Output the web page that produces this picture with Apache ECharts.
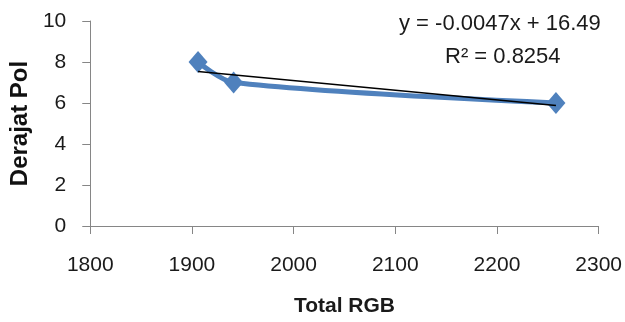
<!DOCTYPE html>
<html><head><meta charset="utf-8">
<script src="https://cdn.jsdelivr.net/npm/echarts@6/dist/echarts.min.js"></script>
<style>html,body{margin:0;padding:0;background:#fff}#c{width:625px;height:322px}</style>
</head><body><div id="c"></div>
<script>
const totalRGB = [1906, 1941, 2258];
const derajatPol = [8, 7, 6];
const trendSlope = -0.0047;
const trendIntercept = 16.49;
const equationText = ['y = -0.0047x + 16.49', 'R² = 0.8254'];

const FONT = '"Liberation Sans", Arial, sans-serif';
const xMinData = Math.min(...totalRGB), xMaxData = Math.max(...totalRGB);
const trend = [xMinData, xMaxData].map(x => [x, trendSlope * x + trendIntercept]);

const chart = echarts.init(document.getElementById('c'), null, {renderer: 'canvas'});
chart.setOption({
  animation: false,
  grid: {left: 89, right: 24, top: 21, bottom: 95},
  xAxis: {
    type: 'value', min: 1800, max: 2300, interval: 100,
    name: 'Total RGB', nameLocation: 'middle', nameGap: 70,
    nameTextStyle: {fontFamily: FONT, fontSize: 21, fontWeight: 'bold', color: '#1a1a1a'},
    axisLine: {lineStyle: {color: '#868686', width: 1}},
    axisTick: {show: true, length: 8, lineStyle: {color: '#868686'}},
    axisLabel: {fontFamily: FONT, fontSize: 21, color: '#1a1a1a', margin: 29,
      formatter: v => String(v)},
    splitLine: {show: false}
  },
  yAxis: {
    type: 'value', min: 0, max: 10, interval: 2,
    name: 'Derajat Pol', nameLocation: 'middle', nameGap: 58, nameRotate: 90,
    nameTextStyle: {fontFamily: FONT, fontSize: 24, fontWeight: 'bold', color: '#111'},
    axisLine: {show: true, lineStyle: {color: '#868686', width: 1}},
    axisTick: {show: true, length: 8, lineStyle: {color: '#868686'}},
    axisLabel: {fontFamily: FONT, fontSize: 21, color: '#1a1a1a', margin: 24},
    splitLine: {show: false}
  },
  series: [
    {
      type: 'line', data: totalRGB.map((x, i) => [x, derajatPol[i]]),
      smooth: 0.3, symbol: 'diamond', symbolSize: [19, 22],
      lineStyle: {color: '#4F81BD', width: 5},
      itemStyle: {color: '#4F81BD'}, z: 2
    },
    {
      type: 'line', data: trend, symbol: 'none', smooth: false,
      lineStyle: {color: '#000', width: 1.5}, z: 3
    }
  ],
  graphic: [
    {type: 'text', x: 399, y: 24, style: {text: equationText[0], font: '22px ' + FONT, fill: '#1a1a1a', verticalAlign: 'middle'}},
    {type: 'text', x: 445, y: 57, style: {text: equationText[1], font: '22px ' + FONT, fill: '#1a1a1a', verticalAlign: 'middle'}}
  ]
});
</script></body></html>
